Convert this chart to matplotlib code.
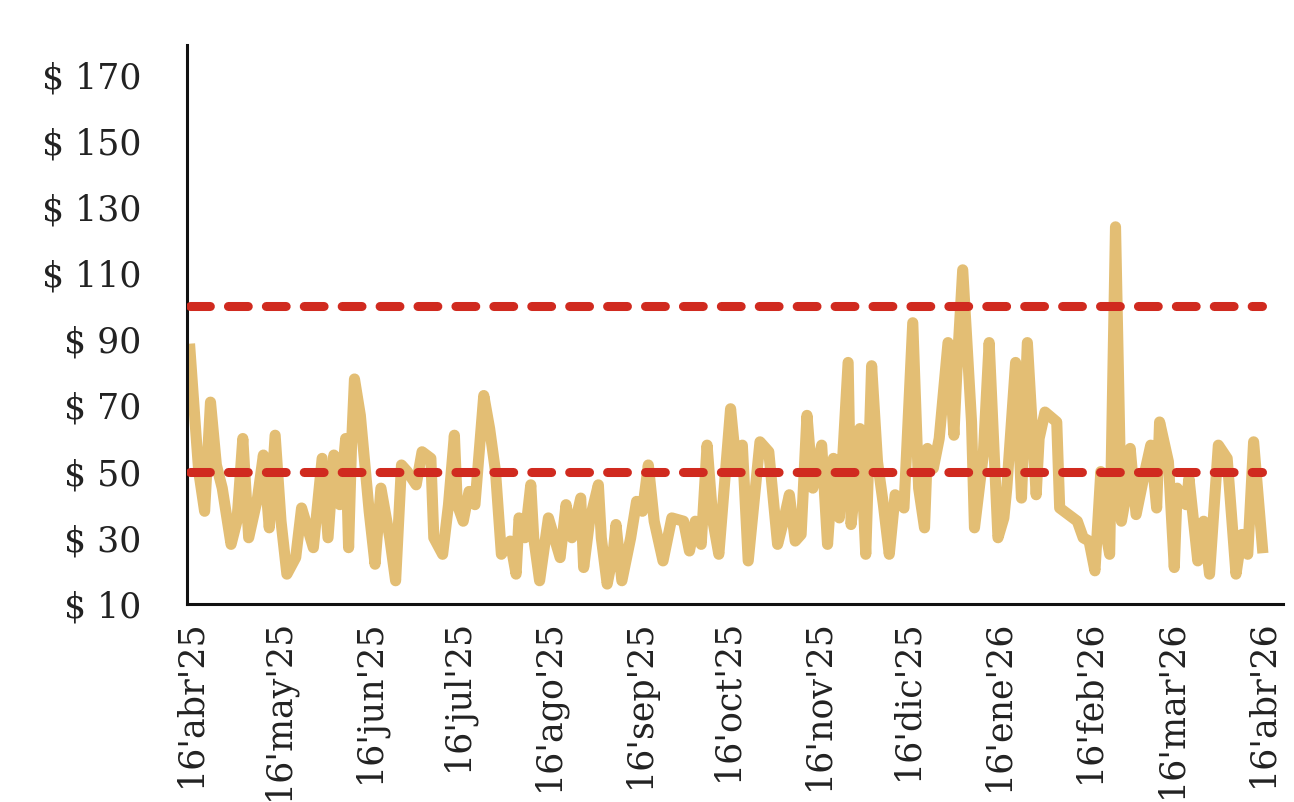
# Daily price series with 50 / 100 reference bands

import datetime as dt
import matplotlib
matplotlib.use("Agg")
import matplotlib.pyplot as plt

start_date = dt.datetime(2025, 4, 16)

# days after 16 Apr 2025, and price
day_offset = [0, 2, 3, 5, 7, 9, 11, 14, 16, 18, 20, 23, 25, 27, 29, 31, 33, 36, 38, 40,
	42, 45, 47, 49, 51, 53, 54, 55, 56, 58, 61, 63, 65, 68, 70, 72, 74, 77, 79, 82,
	83, 86, 88, 90, 91, 93, 95, 97, 100, 102, 104, 106, 109, 111, 112, 114, 116, 117, 119, 122,
	124, 126, 128, 130, 133, 134, 136, 139, 140, 142, 144, 145, 147, 150, 152, 154, 156, 158, 161, 164,
	168, 170, 172, 174, 176, 178, 180, 184, 186, 188, 190, 194, 197, 200, 202, 204, 206, 208, 210, 212,
	215, 217, 219, 221, 224, 225, 227, 228, 230, 232, 234, 236, 238, 240, 243, 246, 248, 250, 251, 253,
	255, 258, 260, 261, 263, 266, 267, 270, 272, 275, 277, 278, 281, 283, 285, 288, 289, 291, 295, 296,
	299, 302, 304, 306, 308, 310, 311, 313, 315, 317, 319, 320, 322, 325, 327, 329, 330, 333, 335, 336,
	339, 340, 343, 345, 347, 350, 353, 356, 358, 360, 362, 365]
price = [87, 62, 50, 38, 71, 52, 45, 28, 35, 60, 30, 42, 55, 33, 61, 35, 19, 24, 39, 33,
	27, 54, 30, 55, 40, 60, 27, 58, 78, 67, 38, 22, 45, 30, 17, 52, 50, 46, 56, 54,
	30, 25, 40, 61, 40, 35, 44, 40, 73, 63, 50, 25, 29, 19, 36, 30, 46, 30, 17, 36,
	30, 24, 40, 30, 42, 21, 35, 46, 30, 16, 25, 34, 17, 30, 41, 38, 52, 35, 23, 36,
	35, 26, 35, 28, 58, 35, 25, 69, 51, 58, 23, 59, 56, 28, 35, 43, 29, 31, 67, 45,
	58, 28, 54, 36, 83, 34, 50, 63, 25, 82, 53, 40, 25, 43, 39, 95, 45, 33, 57, 51,
	60, 89, 61, 80, 111, 65, 33, 55, 89, 30, 36, 45, 83, 42, 89, 43, 60, 68, 65, 39,
	37, 35, 30, 29, 20, 50, 35, 25, 124, 35, 45, 57, 37, 50, 58, 39, 65, 53, 21, 45,
	40, 48, 23, 35, 19, 58, 54, 19, 31, 25, 59, 27]

limit_low = 50
limit_high = 100

tick_month = [4, 5, 6, 7, 8, 9, 10, 11, 12, 1, 2, 3, 4]
tick_year = [2025, 2025, 2025, 2025, 2025, 2025, 2025, 2025, 2025, 2026, 2026, 2026, 2026]
tick_labels = ["16'abr'25", "16'may'25", "16'jun'25", "16'jul'25", "16'ago'25", "16'sep'25",
	"16'oct'25", "16'nov'25", "16'dic'25", "16'ene'26", "16'feb'26", "16'mar'26", "16'abr'26"]

y_ticks = [10, 30, 50, 70, 90, 110, 130, 150, 170]


dates = [start_date + dt.timedelta(days=d) for d in day_offset]
tick_dates = [dt.datetime(y, m, 16) for y, m in zip(tick_year, tick_month)]

plt.rcParams['font.family'] = 'DejaVu Serif'

fig = plt.figure(figsize=(12.94, 8.02), dpi=100)
ax = fig.add_axes([0.1445, 0.247, 0.847, 0.697])

ax.plot(dates, price, color='#E3BE74', linewidth=8, solid_joinstyle='round', zorder=2)

span = [dates[0], dates[-1]]
for lvl in [limit_low, limit_high]:
	ax.plot(span, [lvl, lvl], color='#D02A1F', linewidth=6.5, dashes=(2.2, 2.0),
		dash_capstyle='round', zorder=3)

ax.set_xlim(start_date - dt.timedelta(days=1), start_date + dt.timedelta(days=372))
ax.set_ylim(10, 179)

ax.set_yticks(y_ticks)
ax.set_yticklabels(['$ %d' % v for v in y_ticks])
ax.set_xticks(tick_dates)
ax.set_xticklabels(tick_labels, rotation=90)

ax.tick_params(axis='y', length=0, pad=33, labelsize=25, colors='#222222')
ax.tick_params(axis='x', length=0, pad=11, labelsize=25, colors='#222222')

for s in ['top', 'right']:
	ax.spines[s].set_visible(False)
for s in ['left', 'bottom']:
	ax.spines[s].set_linewidth(2.2)
	ax.spines[s].set_color('#111111')

fig.savefig('out.png', dpi=100)
